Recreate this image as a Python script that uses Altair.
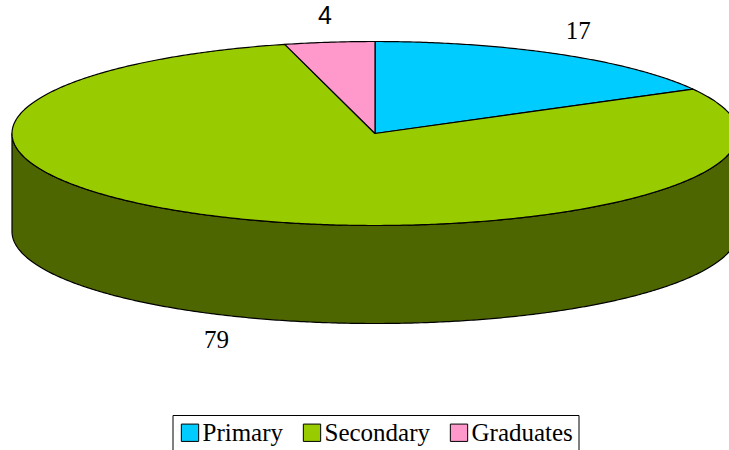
import numpy as np
import pandas as pd
import altair as alt

# ---- data ----
categories = ["Primary", "Secondary", "Graduates"]
values = [17, 79, 4]
top_colors = ["#00CCFF", "#99CC00", "#FF99CC"]
side_colors = ["#006680", "#4D6600", "#804D66"]
label_fonts = ["Liberation Serif", "Liberation Serif", "Liberation Sans"]

# ---- layout parameters (ellipse units) ----
DEPTH = 98 / 92.0
X_DOMAIN = [-375 / 363.0, (729 - 375) / 363.0]
Y_DOMAIN = [(133.5 - 450) / 92.0, 133.5 / 92.0]
LBL_KX, LBL_KY = 1.1, 1.29

total = float(sum(values))
bounds = np.concatenate([[0.0], np.cumsum(values) / total * 360.0])

top_rows, side_rows, label_rows = [], [], []
for i, cat in enumerate(categories):
    a0, a1 = bounds[i], bounds[i + 1]
    # top face slice
    angs = np.linspace(a0, a1, max(3, int((a1 - a0) * 2)))
    pts = [(0.0, 0.0)] + [(np.sin(np.radians(a)), np.cos(np.radians(a))) for a in angs] + [(0.0, 0.0)]
    for k, (x, y) in enumerate(pts):
        top_rows.append({"category": cat, "idx": k, "x": x, "y": y})
    # visible side (front half: 90..270 deg)
    b0, b1 = max(a0, 90.0), min(a1, 270.0)
    if b1 > b0:
        sa = np.linspace(b0, b1, max(3, int((b1 - b0) * 2)))
        spts = [(np.sin(np.radians(a)), np.cos(np.radians(a))) for a in sa]
        spts += [(np.sin(np.radians(a)), np.cos(np.radians(a)) - DEPTH) for a in sa[::-1]]
        spts.append(spts[0])
        for k, (x, y) in enumerate(spts):
            side_rows.append({"category": cat, "idx": k, "x": x, "y": y})
    # label
    m = np.radians((a0 + a1) / 2)
    ly = LBL_KY * np.cos(m)
    if np.cos(m) < 0:
        ly -= DEPTH
    label_rows.append({"category": cat, "label": str(values[i]), "font": label_fonts[i],
                       "x": LBL_KX * np.sin(m), "y": ly})

top_df = pd.DataFrame(top_rows)
side_df = pd.DataFrame(side_rows)
label_df = pd.DataFrame(label_rows)

xs = alt.Scale(domain=X_DOMAIN, nice=False, zero=False)
ys = alt.Scale(domain=Y_DOMAIN, nice=False, zero=False)
X = alt.X("x:Q", scale=xs, axis=None)
Y = alt.Y("y:Q", scale=ys, axis=None)

# side walls: one layer per visible slice, constant darker fill
side_layers = []
for i, cat in enumerate(categories):
    if (side_df["category"] == cat).any():
        side_layers.append(
            alt.Chart(side_df).transform_filter(alt.datum.category == cat)
            .mark_line(fill=side_colors[i], stroke="black", strokeWidth=1.2, strokeJoin="round")
            .encode(x=X, y=Y, order=alt.Order("idx:Q"))
        )

top = alt.Chart(top_df).mark_line(stroke="black", strokeWidth=1.2, strokeJoin="round").encode(
    x=X, y=Y,
    fill=alt.Fill(
        "category:N",
        scale=alt.Scale(domain=categories, range=top_colors),
        sort=categories,
        legend=alt.Legend(
            title=None, orient="none", legendX=172.5, legendY=415, direction="horizontal",
            symbolType="square", symbolSize=300, symbolStrokeColor="black", symbolStrokeWidth=1,
            symbolOpacity=1, labelFont="Liberation Serif", labelFontSize=25, labelColor="black",
            labelOffset=0, columnPadding=16, padding=5, strokeColor="black", fillColor="white",
            labelLimit=300,
        ),
    ),
    detail="category:N",
    order=alt.Order("idx:Q"),
)

label_layers = []
for f in sorted(set(label_fonts)):
    label_layers.append(
        alt.Chart(label_df).transform_filter(alt.datum.font == f)
        .mark_text(font=f, fontSize=25, color="black", align="center", baseline="middle")
        .encode(x=X, y=Y, text="label:N")
    )

chart = (
    alt.layer(*side_layers, top, *label_layers)
    .properties(width=729, height=450, autosize=alt.AutoSizeParams(type="none"), padding=0)
    .configure_view(stroke=None)
    .configure_legend(labelFont="Liberation Serif", labelFontSize=25, labelColor="black",
                      labelLimit=300)
)

chart.save("out.html", embed_options={"renderer": "svg", "actions": False})
